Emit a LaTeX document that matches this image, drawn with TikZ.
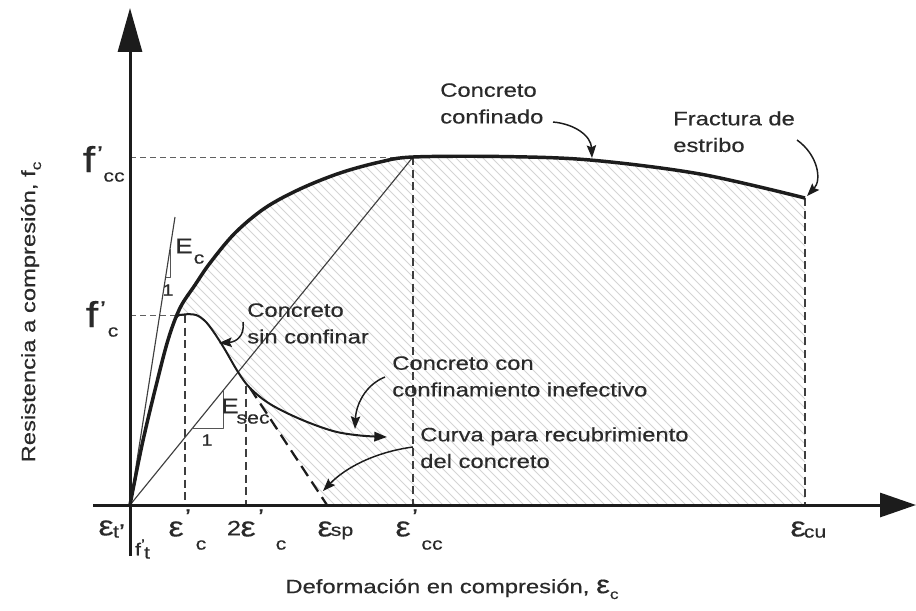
\documentclass[tikz,border=0pt]{standalone}
\usepackage{fontspec}
\setmainfont{Liberation Sans}[FakeStretch=1.23,FakeBold=0.35]
\usetikzlibrary{arrows.meta}
\definecolor{ink}{HTML}{1C1C1C}
\definecolor{txt}{HTML}{2A2A2A}
\definecolor{hatchc}{HTML}{D4D4D4}
\begin{document}
\begin{tikzpicture}[x=0.75pt,y=-0.75pt,line join=round,
  txtlbl/.style={font=\fontsize{14.5}{20}\selectfont,text=txt,inner sep=0pt,align=left},
  epsg/.style={font=\fontsize{21}{21}\selectfont,text=txt,inner sep=0pt},
  fsym/.style={font=\fontsize{27}{27}\selectfont,text=txt,inner sep=0pt},
  esym/.style={font=\fontsize{16}{16}\selectfont,text=txt,inner sep=0pt},
  subs/.style={font=\fontsize{13}{13}\selectfont,text=txt,inner sep=0pt},
  smalls/.style={font=\fontsize{12}{12}\selectfont,text=txt,inner sep=0pt},
  primesym/.style={font=\fontsize{16}{16}\selectfont,text=txt,inner sep=0pt,anchor=north},
  axisl/.style={line width=2.25pt,draw=ink},
  callout/.style={line width=1.1pt,draw=ink,-{Stealth[length=9.5pt,width=7pt,inset=1.5pt]}},
  vdash/.style={line width=1.1pt,draw=ink!85,dash pattern=on 6pt off 3.5pt},
  hdash/.style={line width=0.7pt,draw=ink!70,dash pattern=on 4.5pt off 3pt},
  coverdash/.style={line width=1.7pt,draw=ink,dash pattern=on 9pt off 5pt},
  thinl/.style={line width=0.85pt,draw=ink!85},
  tril/.style={line width=0.7pt,draw=ink!75},
  confl/.style={line width=2.6pt,draw=ink},
  uncl/.style={line width=1.5pt,draw=ink},
  hatchline/.style={line width=0.7pt,draw=hatchc}]
\fill[white] (0,0) rectangle (916,610);
\useasboundingbox (0,0) rectangle (916,610);

% key points
\coordinate (O) at (130,505);
\coordinate (peakcc) at (413,157);
\coordinate (endcu) at (805,198);
\coordinate (peakc) at (185,315);
\coordinate (twoec) at (246,386);
\coordinate (covtop) at (250,388);
\coordinate (esp) at (327,505);
\coordinate (ectop) at (175,217);

% hatched zone
\begin{scope}
\clip plot[smooth,tension=0.55] coordinates {(130,505) (142,445) (155,390) (168,340) (180,308) (195,285) (210,263) (235,233) (265,208) (300,189) (340,173) (380,162) (413,157) (500,156.5) (590,160) (700,174) (805,198)}
  -- (805,505) -- (327,505) -- (250,388)
  -- plot[smooth,tension=0.55] coordinates {(238,372) (224,348) (213,331) (205,321) (196,315) (184,314.5) (176,318) (168,340)} -- cycle;
\foreach \k in {-500,-491,...,820} \draw[hatchline] (\k,120) -- ++(420,420);
\end{scope}

% dashed guide lines
\draw[hdash] (130,157) -- (peakcc);
\draw[hdash] (130,315) -- (peakc);
\draw[vdash] (peakc) -- (185,505);
\draw[vdash] (twoec) -- (246,505);
\draw[vdash] (peakcc) -- (413,505);
\draw[vdash] (endcu) -- (805,505);
\draw[coverdash] (covtop) -- (esp);

% tangent and secant
\draw[thinl] (O) -- (ectop);
\draw[thinl] (O) -- (peakcc);
\draw[tril] (170,249) -- (170,277) -- (165.6,277);
\draw[tril] (192.6,428) -- (223,428) -- (223,390.6);

% unconfined curve
\draw[uncl,-{Triangle[length=9.5pt,width=7pt]}] plot[smooth,tension=0.55] coordinates {(130,505) (142,445) (155,390) (168,340) (176,318) (184,314.5) (196,315) (205,321) (213,331) (224,348) (238,372) (250,388) (270,404) (300,419) (333,431) (360,435.5) (387,437)};
% confined curve
\draw[confl] plot[smooth,tension=0.55] coordinates {(130,505) (142,445) (155,390) (168,340) (180,308) (195,285) (210,263) (235,233) (265,208) (300,189) (340,173) (380,162) (413,157) (500,156.5) (590,160) (700,174) (805,198)};

% axes
\draw[axisl,-{Triangle[length=33pt,width=18pt]}] (130,556) -- (130,8);
\draw[axisl,-{Triangle[length=27pt,width=18pt]}] (93,505) -- (916,505);

% text labels
\node[txtlbl,anchor=north west] (lconf) at (440,83) {Concreto\\confinado};
\node[txtlbl,anchor=north west] (lfrac) at (673,111) {Fractura de\\estribo};
\node[txtlbl,anchor=north west] (lsin) at (247,303) {Concreto\\sin confinar};
\node[txtlbl,anchor=north west] (linef) at (392,356) {Concreto con\\confinamiento inefectivo};
\node[txtlbl,anchor=north west] (lcov) at (420,427) {Curva para recubrimiento\\del concreto};

% callouts
\coordinate (a1s) at (553,122); \coordinate (a1e) at (592,158);
\coordinate (a2s) at (797,140); \coordinate (a2e) at (807,196);
\coordinate (a3s) at (243,322); \coordinate (a3e) at (219,343);
\coordinate (a4s) at (385,377); \coordinate (a4e) at (355,429);
\coordinate (a5s) at (413,447); \coordinate (a5e) at (323,491);
\draw[callout] (a1s) .. controls (575,124) and (591,136) .. (a1e);
\draw[callout] (a2s) .. controls (818,155) and (822,180) .. (a2e);
\draw[callout] (a3s) .. controls (245,336) and (236,342) .. (a3e);
\draw[callout] (a4s) .. controls (365,385) and (356,405) .. (a4e);
\draw[callout] (a5s) .. controls (375,452) and (345,468) .. (a5e);

% Ec and Esec
\node[esym] (ecE) at (184,246) {E};
\node[subs] (ecc) at (199,259) {c};
\node[smalls] (econe) at (168,290) {1};
\node[esym] (esE) at (230,406) {E};
\node[subs] (essec) at (253,419) {sec};
\node[smalls] (esone) at (207,440) {1};

% y-axis symbols
\node[fsym] (fcc) at (89,159) {f};
\node[primesym] (fccp) at (100,146) {’};
\node[subs] (fccs) at (114,177) {cc};
\node[fsym] (fc) at (92,314) {f};
\node[primesym] (fcp) at (103,301) {’};
\node[subs] (fcs) at (113,332) {c};

% x-axis symbols
\node[epsg] (et) at (106,528) {ε};
\node[subs] (ets) at (116,532) {t};
\node[primesym] (etp) at (122,524) {’};
\node[subs] (ft) at (138,549) {f};
\node[primesym,font=\fontsize{11}{11}\selectfont] (ftp) at (143,539) {’};
\node[subs] (fts) at (147,553) {t};

\node[epsg] (ec) at (176,529) {ε};
\node[primesym] (ecp) at (188,509) {’};
\node[subs] (ecs) at (201,545) {c};

\node[esym,font=\fontsize{15.5}{15.5}\selectfont] (two) at (234,528) {2};
\node[epsg] (ec2) at (248,529) {ε};
\node[primesym] (ec2p) at (261,509) {’};
\node[subs] (ec2s) at (281,545) {c};

\node[epsg] (esp) at (325,529) {ε};
\node[subs] (esps) at (342,533) {sp};

\node[epsg] (ecc) at (403,529) {ε};
\node[primesym] (eccp) at (415,509) {’};
\node[subs] (eccs) at (432,545) {cc};

\node[epsg] (ecu) at (798,529) {ε};
\node[subs] (ecus) at (815,533) {cu};

% axis titles
\node[txtlbl,rotate=90] (ytitle) at (31,312) {Resistencia a compresión, f\raisebox{-0.3em}{\fontsize{10.5}{10.5}\selectfont c}};
\node[txtlbl] (xtitle) at (452,589) {Deformación en compresión, {\fontsize{19}{19}\selectfont ε}\raisebox{-0.3em}{\fontsize{10.5}{10.5}\selectfont c}};
\end{tikzpicture}
\end{document}
